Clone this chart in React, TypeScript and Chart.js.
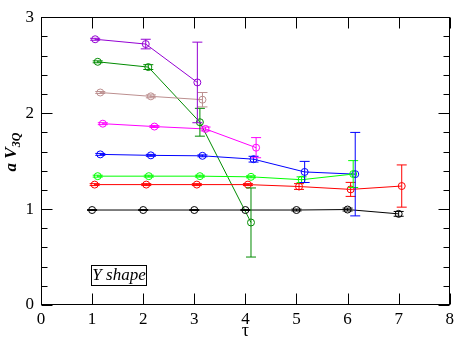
import React, { useEffect, useRef } from "react";
import { Chart, registerables } from "chart.js";
Chart.register(...registerables);

// ---- data (tau, a*V_3Q, error) ----
const xBlack = [1.0, 2.0, 3.0, 4.0, 5.0, 6.0, 7.0];
const yBlack = [0.99, 0.99, 0.99, 0.99, 0.99, 0.995, 0.95];
const eBlack = [0.005, 0.005, 0.005, 0.005, 0.01, 0.015, 0.025];

const xRed = [1.05, 2.06, 3.05, 4.05, 5.05, 6.06, 7.06];
const yRed = [1.255, 1.255, 1.255, 1.255, 1.235, 1.205, 1.24];
const eRed = [0.01, 0.01, 0.01, 0.01, 0.03, 0.073, 0.22];

const xLime = [1.11, 2.11, 3.11, 4.11, 5.1, 6.11];
const yLime = [1.343, 1.343, 1.343, 1.336, 1.306, 1.365];
const eLime = [0.01, 0.01, 0.01, 0.01, 0.03, 0.14];

const xBlue = [1.16, 2.15, 3.16, 4.16, 5.16, 6.15];
const yBlue = [1.57, 1.56, 1.555, 1.52, 1.387, 1.364];
const eBlue = [0.01, 0.01, 0.01, 0.03, 0.11, 0.435];

const xMagenta = [1.21, 2.22, 3.22, 4.21];
const yMagenta = [1.89, 1.86, 1.835, 1.64];
const eMagenta = [0.01, 0.01, 0.02, 0.105];

const xBrown = [1.16, 2.15, 3.16];
const yBrown = [2.215, 2.175, 2.14];
const eBrown = [0.01, 0.015, 0.075];

const xDkGreen = [1.11, 2.1, 3.11, 4.11];
const yDkGreen = [2.535, 2.48, 1.905, 0.86];
const eDkGreen = [0.01, 0.025, 0.145, 0.36];

const xPurple = [1.06, 2.05, 3.06];
const yPurple = [2.77, 2.72, 2.32];
const ePurple = [0.01, 0.05, 0.42];

const xTicks = [0, 1, 2, 3, 4, 5, 6, 7, 8];
const yTicks = [0, 1, 2, 3];

const series = [
  { color: "#000000", x: xBlack, y: yBlack, e: eBlack },
  { color: "#ff0000", x: xRed, y: yRed, e: eRed },
  { color: "#00ff00", x: xLime, y: yLime, e: eLime },
  { color: "#0000ff", x: xBlue, y: yBlue, e: eBlue },
  { color: "#ff00ff", x: xMagenta, y: yMagenta, e: eMagenta },
  { color: "#bc8f8f", x: xBrown, y: yBrown, e: eBrown },
  { color: "#008b00", x: xDkGreen, y: yDkGreen, e: eDkGreen },
  { color: "#9400d3", x: xPurple, y: yPurple, e: ePurple },
];

const FONT = "'Liberation Serif', 'DejaVu Serif', serif";

const errorBars = {
  id: "errorBars",
  afterDatasetsDraw(chart: any) {
    const ctx = chart.ctx;
    const xs = chart.scales.x;
    const ys = chart.scales.y;
    chart.data.datasets.forEach((ds: any) => {
      ctx.save();
      ctx.strokeStyle = ds.borderColor;
      ctx.lineWidth = 1;
      ds.data.forEach((p: any, i: number) => {
        const e = ds.errors[i];
        if (!e) return;
        const px = xs.getPixelForValue(p.x);
        const y1 = ys.getPixelForValue(p.y + e);
        const y2 = ys.getPixelForValue(p.y - e);
        ctx.beginPath();
        ctx.moveTo(px, y1);
        ctx.lineTo(px, y2);
        ctx.moveTo(px - 5, y1);
        ctx.lineTo(px + 5, y1);
        ctx.moveTo(px - 5, y2);
        ctx.lineTo(px + 5, y2);
        ctx.stroke();
      });
      ctx.restore();
    });
  },
};

const frame = {
  id: "frame",
  afterDraw(chart: any) {
    const ctx = chart.ctx;
    const { left, right, top, bottom } = chart.chartArea;
    const xs = chart.scales.x;
    const ys = chart.scales.y;
    ctx.save();
    ctx.strokeStyle = "#000";
    ctx.lineWidth = 1;
    const L = Math.round(left) + 0.5;
    const R = Math.round(right) - 0.5;
    const T = Math.round(top) + 0.5;
    const B = Math.round(bottom) - 0.5;
    ctx.strokeRect(L, T, R - L, B - T);
    ctx.beginPath();
    // x ticks (major only), bottom and top
    xTicks.forEach((v) => {
      const px = Math.round(xs.getPixelForValue(v)) + 0.5;
      ctx.moveTo(px, B);
      ctx.lineTo(px, B - 11);
      ctx.moveTo(px, T);
      ctx.lineTo(px, T + 11);
    });
    // y ticks major and minor, left and right
    for (let k = 0; k <= 15; k++) {
      const v = k * 0.2;
      const len = k % 5 === 0 ? 11 : 6;
      const py = Math.round(ys.getPixelForValue(v)) + 0.5;
      ctx.moveTo(L, py);
      ctx.lineTo(L + len, py);
      ctx.moveTo(R, py);
      ctx.lineTo(R - len, py);
    }
    ctx.stroke();

    // x axis title
    ctx.fillStyle = "#000";
    ctx.font = `18px ${FONT}`;
    ctx.textAlign = "center";
    ctx.textBaseline = "alphabetic";
    ctx.fillText("τ", (left + right) / 2, 336);

    // y axis title: a V_3Q
    ctx.save();
    ctx.translate(16, 152);
    ctx.rotate(-Math.PI / 2);
    const mainFont = `italic bold 17px ${FONT}`;
    const subFont = `italic bold 12px ${FONT}`;
    ctx.font = mainFont;
    const w1 = ctx.measureText("a V").width;
    ctx.font = subFont;
    const w2 = ctx.measureText("3Q").width;
    const start = -(w1 + w2) / 2;
    ctx.textAlign = "left";
    ctx.font = mainFont;
    ctx.fillText("a V", start, 0);
    ctx.font = subFont;
    ctx.fillText("3Q", start + w1, 4);
    ctx.restore();

    // "Y shape" box
    const bx1 = xs.getPixelForValue(0.985);
    const bx2 = xs.getPixelForValue(2.07);
    const by1 = ys.getPixelForValue(0.42);
    const by2 = ys.getPixelForValue(0.21);
    ctx.strokeRect(Math.round(bx1) + 0.5, Math.round(by1) + 0.5, Math.round(bx2 - bx1), Math.round(by2 - by1));
    ctx.font = `italic 17px ${FONT}`;
    ctx.textAlign = "center";
    ctx.textBaseline = "middle";
    ctx.fillText("Y shape", (bx1 + bx2) / 2, (by1 + by2) / 2 + 1);
    ctx.restore();
  },
};

export default function App() {
  const ref = useRef<HTMLCanvasElement>(null);
  useEffect(() => {
    document.body.style.margin = "0";
    const chart = new Chart(ref.current as HTMLCanvasElement, {
      type: "scatter",
      data: {
        datasets: series.map((s) => ({
          data: s.x.map((x, i) => ({ x, y: s.y[i] })),
          errors: s.e,
          showLine: true,
          borderColor: s.color,
          backgroundColor: "rgba(0,0,0,0)",
          borderWidth: 1,
          pointRadius: 3.5,
          pointBorderWidth: 1,
          pointBackgroundColor: "rgba(0,0,0,0)",
          pointBorderColor: s.color,
        })) as any,
      },
      options: {
        animation: false,
        responsive: false,
        devicePixelRatio: 1,
        layout: { padding: { top: 8, right: 6, left: 0, bottom: 0 } },
        plugins: { legend: { display: false }, tooltip: { enabled: false } },
        scales: {
          x: {
            type: "linear",
            min: 0,
            max: 8,
            afterFit: (s: any) => {
              s.height = 35;
            },
            afterBuildTicks: (s: any) => {
              s.ticks = xTicks.map((v) => ({ value: v }));
            },
            grid: { display: false, drawTicks: false },
            border: { display: false },
            ticks: { color: "#000", font: { family: FONT, size: 17 }, padding: 4, maxRotation: 0 },
          },
          y: {
            type: "linear",
            min: 0,
            max: 3,
            afterFit: (s: any) => {
              s.width = 41;
            },
            afterBuildTicks: (s: any) => {
              s.ticks = yTicks.map((v) => ({ value: v }));
            },
            grid: { display: false, drawTicks: false },
            border: { display: false },
            ticks: { color: "#000", font: { family: FONT, size: 17 }, padding: 7 },
          },
        },
      } as any,
      plugins: [errorBars, frame],
    });
    return () => chart.destroy();
  }, []);
  return (
    <div style={{ position: "absolute", left: 0, top: 0, width: 458, height: 340, background: "#fff" }}>
      <canvas ref={ref} width={458} height={340} style={{ width: 458, height: 340 }} />
    </div>
  );
}
